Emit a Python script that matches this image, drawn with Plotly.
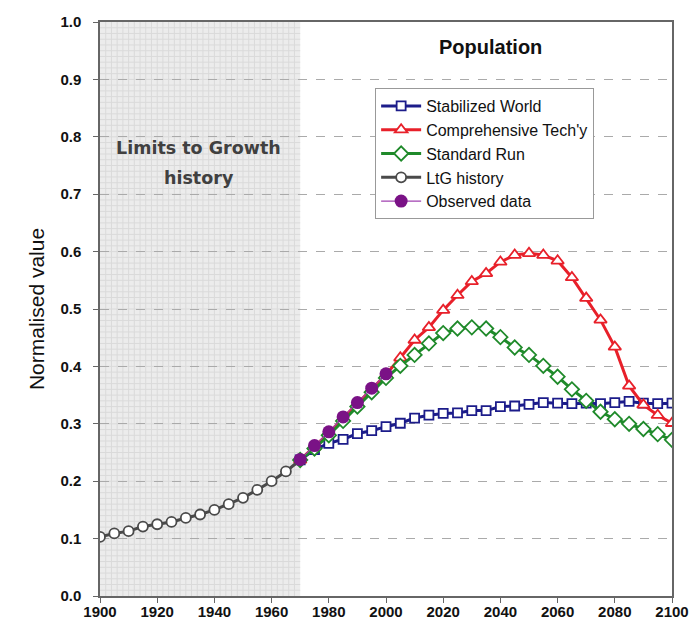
import numpy as np
import plotly.graph_objects as go

# ---------------- data ----------------
ltg_years = list(range(1900, 1971, 5))
ltg_vals = [0.103, 0.109, 0.113, 0.121, 0.125, 0.129, 0.136, 0.142, 0.150,
            0.160, 0.171, 0.185, 0.200, 0.217, 0.237]

obs_years = [1970, 1975, 1980, 1985, 1990, 1995, 2000]
obs_vals = [0.238, 0.262, 0.286, 0.312, 0.337, 0.362, 0.387]

run_years = list(range(1970, 2101, 5))
stab_vals = [0.237, 0.255, 0.266, 0.273, 0.283, 0.288, 0.295, 0.301, 0.310,
             0.315, 0.318, 0.319, 0.323, 0.323, 0.330, 0.331, 0.334, 0.337,
             0.336, 0.335, 0.336, 0.335, 0.337, 0.339, 0.336, 0.335, 0.336]
tech_vals = [0.237, 0.260, 0.284, 0.310, 0.335, 0.360, 0.386, 0.415, 0.446,
             0.468, 0.498, 0.524, 0.548, 0.562, 0.582, 0.594, 0.597, 0.594,
             0.584, 0.555, 0.519, 0.481, 0.434, 0.366, 0.333, 0.315, 0.301]
std_vals = [0.237, 0.257, 0.280, 0.305, 0.330, 0.355, 0.380, 0.401, 0.420,
            0.440, 0.458, 0.466, 0.468, 0.466, 0.451, 0.433, 0.420, 0.401,
            0.382, 0.360, 0.340, 0.321, 0.308, 0.300, 0.291, 0.282, 0.272]

x_ticks = list(range(1900, 2101, 20))
y_ticks = [round(v * 0.1, 1) for v in range(0, 11)]

title_text = "Population"
shade_label = ["Limits to Growth", "history"]
shade_range = [1900, 1970]

# ---------------- figure ----------------
fig = go.Figure()

def add_run(name, x, y, color, symbol, size=10):
    fig.add_trace(go.Scatter(
        x=x, y=y, name=name, mode="lines+markers",
        line=dict(color=color, width=3),
        marker=dict(symbol=symbol, size=size, color="white",
                    line=dict(color=color, width=1.8)),
    ))

add_run("Stabilized World", run_years, stab_vals, "#1c1c8a", "square", 9)
add_run("Comprehensive Tech'y", run_years, tech_vals, "#e8202a", "triangle-up", 11)
add_run("Standard Run", run_years, std_vals, "#1f8a2a", "diamond", 11)
add_run("LtG history", ltg_years, ltg_vals, "#4a4a4a", "circle", 10)

fig.add_trace(go.Scatter(
    x=obs_years, y=obs_vals, name="Observed data", mode="lines+markers",
    line=dict(color="#a040b0", width=1.2),
    marker=dict(symbol="circle", size=13, color="#7a1286",
                line=dict(color="#7a1286", width=0)),
))

# shaded history region with fine grid
shapes = [dict(type="rect", xref="x", yref="y", x0=shade_range[0], x1=shade_range[1],
               y0=0, y1=1, fillcolor="#ececec", line=dict(width=0), layer="below")]
for gx in np.arange(shade_range[0] + 2, shade_range[1], 2):
    shapes.append(dict(type="line", xref="x", yref="y", x0=gx, x1=gx, y0=0, y1=1,
                       line=dict(color="#dadada", width=1), layer="below"))
for gy in np.arange(0.01, 1.0, 0.01):
    shapes.append(dict(type="line", xref="x", yref="y", x0=shade_range[0], x1=shade_range[1],
                       y0=gy, y1=gy, line=dict(color="#dadada", width=1), layer="below"))

annotations = [
    dict(text="<b>%s</b>" % title_text, xref="paper", yref="paper", x=0.682, y=0.957,
         xanchor="center", yanchor="middle",
         showarrow=False, font=dict(family="Arial", size=20, color="#111")),
    dict(text="<b>%s</b>" % shade_label[0], xref="x", yref="y", x=1934.5, y=0.78,
         xanchor="center", yanchor="middle",
         showarrow=False, font=dict(family="DejaVu Sans", size=17.5, color="#404040")),
    dict(text="<b>%s</b>" % shade_label[1], xref="x", yref="y", x=1934.5, y=0.728,
         xanchor="center", yanchor="middle",
         showarrow=False, font=dict(family="DejaVu Sans", size=17.5, color="#404040")),
]

fig.update_layout(
    width=693, height=634,
    margin=dict(l=100, r=21, t=22, b=38),
    paper_bgcolor="white", plot_bgcolor="white",
    font=dict(family="Arial", color="#111"),
    shapes=shapes, annotations=annotations,
    legend=dict(x=0.481, y=0.885, xanchor="left", yanchor="top",
                bgcolor="white", bordercolor="#999", borderwidth=1,
                font=dict(family="Arial", size=16, color="#111"),
                tracegroupgap=0, itemwidth=40),
    showlegend=True,
)

fig.update_xaxes(range=[1900, 2100], tickvals=x_ticks, ticks="outside", ticklen=5,
                 tickcolor="#666", showgrid=False, zeroline=False, automargin=False,
                 ticklabeloverflow="allow", ticklabelstandoff=-4,
                 showline=True, linecolor="#666", linewidth=1.5, mirror=True,
                 tickfont=dict(family="Arial", size=15, color="#111", weight="bold"))
fig.update_yaxes(range=[0, 1.0], tickvals=y_ticks, tickformat=".1f", ticks="outside",
                 ticklen=5, tickcolor="#666", ticklabelstandoff=9, automargin=False,
                 showgrid=True, gridcolor="#aaaaaa", griddash="dash", gridwidth=1,
                 zeroline=False, showline=True, linecolor="#666", linewidth=1.5, mirror=True,
                 tickfont=dict(family="Arial", size=15, color="#111", weight="bold"),
                 title=dict(text="Normalised value", font=dict(family="Arial", size=21, color="#111"),
                            standoff=10))

# remove the page's default 8px body margin so the figure fills the window
fig.write_html("out.html", config={"displayModeBar": False},
               post_script="document.body.style.margin='0';")
